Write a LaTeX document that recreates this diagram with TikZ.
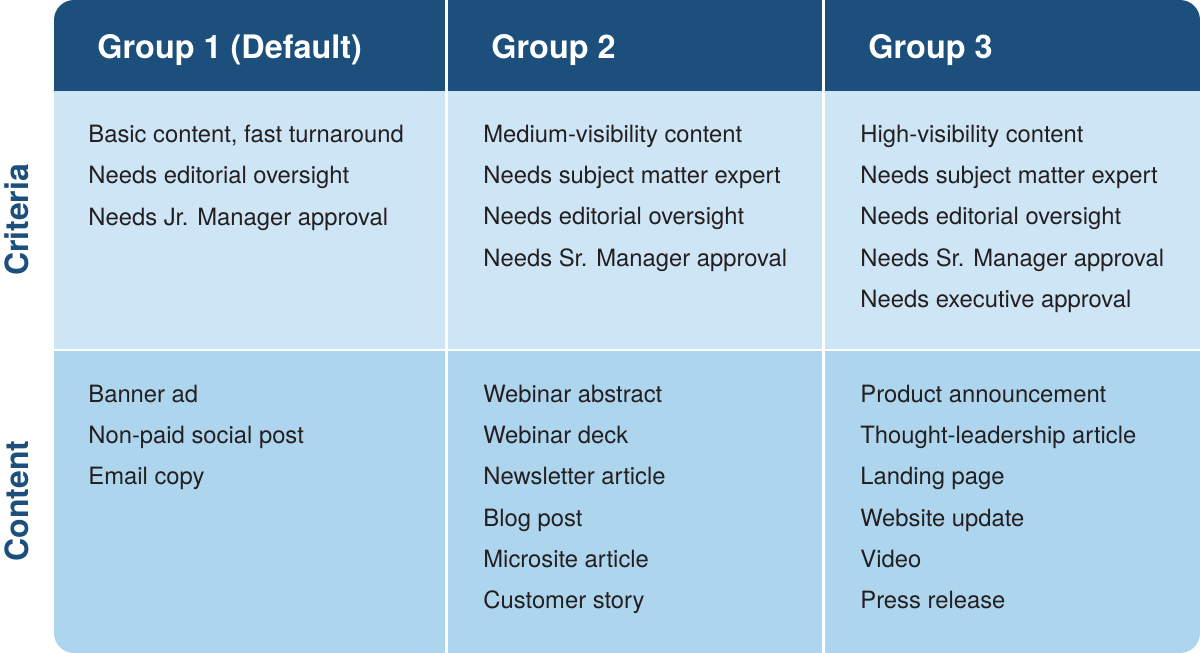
\documentclass[tikz,border=0pt]{standalone}
\usepackage{fontspec}
\setmainfont{TeX Gyre Heros}
\usetikzlibrary{positioning}

\definecolor{headblue}{HTML}{1C4F7C}
\definecolor{critblue}{HTML}{CDE5F5}
\definecolor{contblue}{HTML}{ADD5EE}
\definecolor{bodytext}{HTML}{231F20}

\tikzset{
  grouphead/.style={anchor=base west, inner sep=0pt, text=white,
    font=\fontsize{16.2}{19}\selectfont\bfseries},
  rowlabel/.style={rotate=90, inner sep=0pt, text=headblue,
    font=\fontsize{16}{19}\selectfont\bfseries},
  cellitems/.style={anchor=north west, inner sep=0pt, align=left, text=bodytext,
    font=\fontsize{11.9}{20.65}\selectfont},
  divider/.style={draw=white, line width=1.5pt},
}

\begin{document}
\begin{tikzpicture}[x=0.5pt, y=-0.5pt]
      \useasboundingbox (0,0) rectangle (1200,653);

      % table body
      \begin{scope}
        \clip[rounded corners=10pt] (54,0) rectangle (1200,653);
        \fill[headblue] (54,0) rectangle (1200,91);
        \fill[critblue] (54,91) rectangle (1200,350);
        \fill[contblue] (54,350) rectangle (1200,653);
        \draw[draw=white, line width=1pt] (54,350) -- (1200,350);
        \foreach \xd in {446.5, 823.5}
          \draw[divider] (\xd,0) -- (\xd,653);
      \end{scope}

      % row labels
      \node[rowlabel] (lcrit) at (17,220) {Criteria};
      \node[rowlabel] (lcont) at (17,501) {Content};

      % headers
      \node[grouphead] (g1) at (97,58) {Group 1 (Default)};
      \node[grouphead] (g2) at (491,58) {Group 2};
      \node[grouphead] (g3) at (868,58) {Group 3};

      % criteria
      \node[cellitems] (crit1) at (88,124.6) {Basic content, fast turnaround\\
        Needs editorial oversight\\Needs Jr. Manager approval};
      \node[cellitems] (crit2) at (483,124.6) {Medium-visibility content\\
        Needs subject matter expert\\Needs editorial oversight\\
        Needs Sr. Manager approval};
      \node[cellitems] (crit3) at (860,124.6) {High-visibility content\\
        Needs subject matter expert\\Needs editorial oversight\\
        Needs Sr. Manager approval\\Needs executive approval};

      % content
      \node[cellitems] (cont1) at (88,384.6) {Banner ad\\Non-paid social post\\
        Email copy};
      \node[cellitems] (cont2) at (483,384.6) {Webinar abstract\\Webinar deck\\
        Newsletter article\\Blog post\\Microsite article\\Customer story};
      \node[cellitems] (cont3) at (860,384.6) {Product announcement\\
        Thought-leadership article\\Landing page\\Website update\\Video\\
        Press release};
    \end{tikzpicture}
\end{document}
